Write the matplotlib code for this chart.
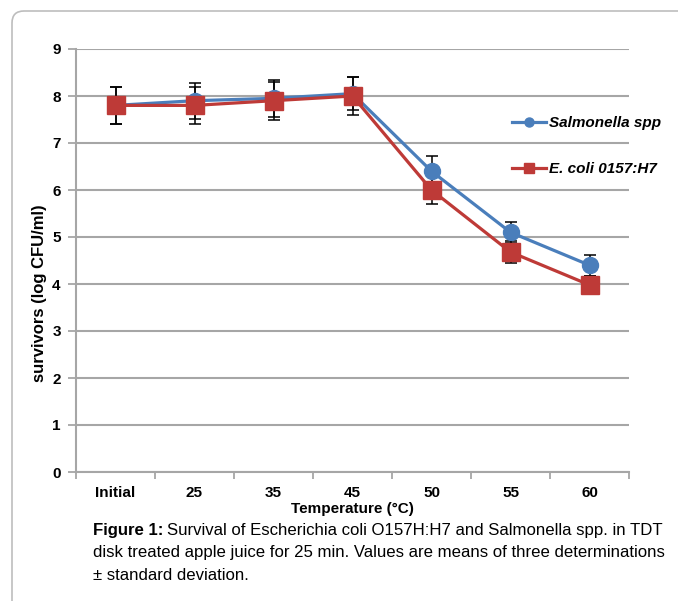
import matplotlib
matplotlib.use("Agg")
import matplotlib.pyplot as plt
from matplotlib.patches import FancyBboxPatch

plt.rcParams['font.family'] = ['Liberation Sans', 'DejaVu Sans']

categories = ['Initial', '25', '35', '45', '50', '55', '60']
salmonella = [7.8, 7.9, 7.95, 8.05, 6.4, 5.1, 4.4]
salmonella_sd = [0.4, 0.38, 0.4, 0.35, 0.32, 0.22, 0.22]
ecoli = [7.8, 7.8, 7.9, 8.0, 6.0, 4.68, 3.98]
ecoli_sd = [0.4, 0.4, 0.4, 0.4, 0.3, 0.24, 0.2]
yticks = list(range(0, 10))

blue = '#4A7EBB'
red = '#BE3A37'
grid = '#A6A6A6'

W, H = 678, 601
fig = plt.figure(figsize=(W / 100, H / 100), dpi=100)
ax = fig.add_axes([76 / W, 1 - 472 / H, (629 - 76) / W, (472 - 49) / H])

x = list(range(len(categories)))

# error bars first, then lines with markers on top
ax.errorbar(x, salmonella, yerr=salmonella_sd, fmt='none', ecolor='black',
            elinewidth=1.1, capsize=4, capthick=1.1, zorder=3)
ax.errorbar(x, ecoli, yerr=ecoli_sd, fmt='none', ecolor='black',
            elinewidth=1.1, capsize=4, capthick=1.1, zorder=3)
ax.plot(x, salmonella, color=blue, lw=2.3, marker='o', ms=11.5,
        zorder=4, label='Salmonella spp')
ax.plot(x, ecoli, color=red, lw=2.3, marker='s', ms=13,
        zorder=5, label='E. coli 0157:H7')

ax.set_xlim(-0.5, len(categories) - 0.5)
ax.set_ylim(0, 9)
ax.set_yticks(yticks)
ax.set_xticks(x)
ax.set_xticklabels(categories, fontweight='bold', fontsize=11)
ax.set_xticks([i - 0.5 for i in range(len(categories) + 1)], minor=True)
ax.tick_params(axis='x', which='major', length=0, pad=10)
ax.tick_params(axis='x', which='minor', length=5, color=grid, width=1.3)
ax.tick_params(axis='y', length=6, color=grid, width=1.3, pad=5)
for lab in ax.get_yticklabels():
    lab.set_fontweight('bold')
    lab.set_fontsize(11)

ax.grid(axis='y', color=grid, lw=1.5, zorder=0)
ax.set_axisbelow(True)
for s in ['top', 'right']:
    ax.spines[s].set_visible(False)
for s in ['left', 'bottom']:
    ax.spines[s].set_color(grid)
    ax.spines[s].set_linewidth(1.5)

ax.set_xlabel('Temperature (°C)', fontweight='bold', fontsize=11, labelpad=1.5)
fig.text(40 / W, 1 - 293 / H, 'survivors (log CFU/ml)', rotation=90,
         ha='center', va='center', fontweight='bold', fontsize=12)

h1, = ax.plot([], [], color=blue, lw=2.3, marker='o', ms=6.5)
h2, = ax.plot([], [], color=red, lw=2.3, marker='s', ms=7.5)
fig.legend([h1, h2], ['Salmonella spp', 'E. coli 0157:H7'],
           loc='upper left', bbox_to_anchor=(512 / W, 1 - 116 / H),
           frameon=False, borderpad=0, borderaxespad=0,
           handlelength=2.2, handletextpad=0.2, labelspacing=2.1,
           prop={'weight': 'bold', 'style': 'italic', 'size': 11})

# caption below the chart
cap_x = 93 / W
cap_fs = 12.1
t0 = fig.text(cap_x, 1 - 530 / H, 'Figure 1:', fontsize=cap_fs, va='center',
              fontweight='bold')
fig.canvas.draw()
bb = t0.get_window_extent()
fig.text((bb.x1 + 4) / W, 1 - 530 / H,
         'Survival of Escherichia coli O157H:H7 and Salmonella spp. in TDT',
         fontsize=cap_fs, va='center')
fig.text(cap_x, 1 - 553 / H,
         'disk treated apple juice for 25 min. Values are means of three determinations',
         fontsize=cap_fs, va='center')
fig.text(cap_x, 1 - 576 / H, '± standard deviation.', fontsize=cap_fs, va='center')

# rounded frame around the figure (only top and left edges visible)
frame = FancyBboxPatch((12, -30), 720, H - 11 + 30,
                       boxstyle='round,pad=0,rounding_size=12',
                       transform=None, fill=False, ec='#BDBDBD', lw=1.2)
fig.patches.append(frame)

fig.savefig('out.png', dpi=100)
